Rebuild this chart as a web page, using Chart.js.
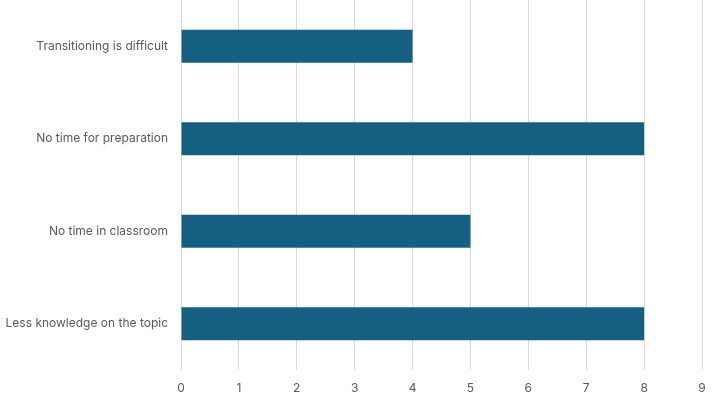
<!DOCTYPE html>
<html>
<head>
<meta charset="utf-8">
<script src="https://cdn.jsdelivr.net/npm/chart.js@4/dist/chart.umd.min.js"></script>
<style>
  html, body { margin: 0; padding: 0; background: #fff; }
  #wrap { width: 714px; height: 397px; }
</style>
</head>
<body>
<div id="wrap"><canvas id="barChart" width="714" height="397"></canvas></div>
<script>
const categories = ['Transitioning is difficult', 'No time for preparation', 'No time in classroom', 'Less knowledge on the topic'];
const counts = [4, 8, 5, 8];
const xMin = 0;
const xMax = 9;

document.addEventListener('DOMContentLoaded', () => {
    const ctx = document.getElementById('barChart').getContext('2d');
    new Chart(ctx, {
        type: 'bar',
        data: {
            labels: categories,
            datasets: [{
                data: counts,
                backgroundColor: '#156082',
                borderWidth: 0,
                categoryPercentage: 1,
                barPercentage: 0.355
            }]
        },
        options: {
            responsive: false,
            animation: false,
            indexAxis: 'y',
            layout: { padding: { top: 0, right: 12, bottom: 0, left: 0 } },
            scales: {
                x: {
                    min: xMin,
                    max: xMax,
                    ticks: {
                        stepSize: 1,
                        color: '#595959',
                        padding: 11,
                        font: { family: 'Inter, "Open Sans", sans-serif', size: 12 }
                    },
                    grid: { color: '#d9d9d9', drawTicks: false, lineWidth: 1 },
                    border: { display: false },
                    afterFit: (scale) => {
                        scale.height = 27;
                        scale.paddingLeft = 0;
                        scale.paddingRight = 0;
                    }
                },
                y: {
                    ticks: {
                        color: '#595959',
                        padding: 13,
                        font: { family: 'Inter, "Open Sans", sans-serif', size: 12 }
                    },
                    grid: { display: false, drawTicks: false },
                    border: { display: false },
                    afterFit: (scale) => {
                        scale.width = 181;
                        scale.paddingTop = 0;
                        scale.paddingBottom = 0;
                    }
                }
            },
            plugins: {
                legend: { display: false },
                tooltip: { enabled: false }
            }
        }
    });
});
</script>
</body>
</html>
